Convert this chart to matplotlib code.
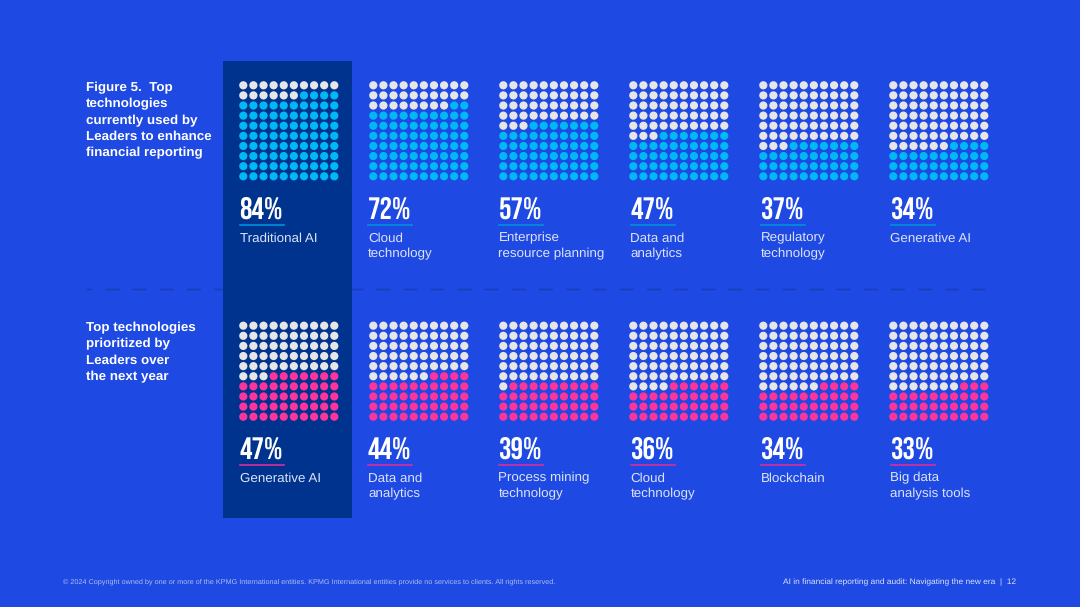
import matplotlib
matplotlib.use("Agg")
import matplotlib.pyplot as plt
from matplotlib.patches import Rectangle

plt.rcParams['font.family'] = ['Liberation Sans', 'DejaVu Sans']
plt.rcParams['text.hinting'] = 'none'

# top row
used_labels = ["Traditional AI", "Cloud\ntechnology", "Enterprise\nresource planning",
               "Data and\nanalytics", "Regulatory\ntechnology", "Generative AI"]
used_values = [84, 72, 57, 47, 37, 34]

# bottom row
prio_labels = ["Generative AI", "Data and\nanalytics", "Process mining\ntechnology",
               "Cloud\ntechnology", "Blockchain", "Big data\nanalysis tools"]
prio_values = [47, 44, 39, 36, 34, 33]

used_title = "Figure 5.  Top\ntechnologies\ncurrently used by\nLeaders to enhance\nfinancial reporting"
prio_title = "Top technologies\nprioritized by\nLeaders over\nthe next year"
footer_left = ("© 2024 Copyright owned by one or more of the KPMG International entities. "
               "KPMG International entities provide no services to clients. All rights reserved.")
footer_right = "AI in financial reporting and audit: Navigating the new era  |  12"

BG = "#1E49E2"
PANEL = "#00338D"
GREY = "#E6E6E6"
CYAN = "#00B8F5"
PINK = "#FD349C"

text_x = [239.5, 368, 498.5, 630.5, 760.5, 890.5]

fig = plt.figure(figsize=(10.8, 6.07), dpi=100, facecolor=BG)
ax = fig.add_axes([0, 0, 1, 1])
ax.set_xlim(0, 1080)
ax.set_ylim(607, 0)
ax.axis('off')

ax.add_patch(Rectangle((223, 61), 129, 457, color=PANEL, lw=0, zorder=1))
ax.plot([86, 985], [289, 289], color="#1A3DB8", lw=1, ls=(5.8, (10, 9.5)), zorder=0.5)


def put_lines(x, y, text, step, **kw):
    for k, line in enumerate(text.split("\n")):
        ax.text(x, y + step * k, line, va='baseline', ha='left', zorder=4, **kw)


def draw_row(labels, values, top, dot_color, line_color, value_y, line_y, label_y):
    for i, (label, value) in enumerate(zip(labels, values)):
        left = 243.3 + 130 * i
        xs, ys, cs = [], [], []
        for n in range(100):
            xs.append(left + 10.11 * (n % 10))
            ys.append(top + 10.11 * (n // 10))
            cs.append(GREY if n < 100 - value else dot_color)
        dots = ax.scatter(xs, ys, s=35, c=cs, linewidths=0, zorder=3)
        dots.set_snap(False)
        ax.text(text_x[i], value_y, f"{value}%", color="white", fontsize=22.5,
                family=['Bebas Neue', 'Oswald', 'Liberation Sans'], va='baseline', ha='left', zorder=4)
        ax.plot([text_x[i], text_x[i] + 44], [line_y, line_y], color=line_color, lw=1.2, zorder=4)
        put_lines(text_x[i], label_y, label, 16.2, color="#DDE4F8", fontsize=9.6)


draw_row(used_labels, used_values, 85.3, CYAN, "#0091DA", 218.5, 225, 241.5)
draw_row(prio_labels, prio_values, 325.7, PINK, "#D62E9B", 458.5, 465, 481.5)

put_lines(85.5, 91.5, used_title, 16.2, color="white", fontsize=9.6, fontweight='bold')
put_lines(85.5, 331.5, prio_title, 16.2, color="white", fontsize=9.6, fontweight='bold')

ax.text(63, 582, footer_left, color="#AEBEF0", fontsize=5.2, va='center', ha='left')
ax.text(1016, 582.5, footer_right, color="#DCE3F8", fontsize=6.05, va='center', ha='right')

fig.savefig("out.png", dpi=100, facecolor=BG)
